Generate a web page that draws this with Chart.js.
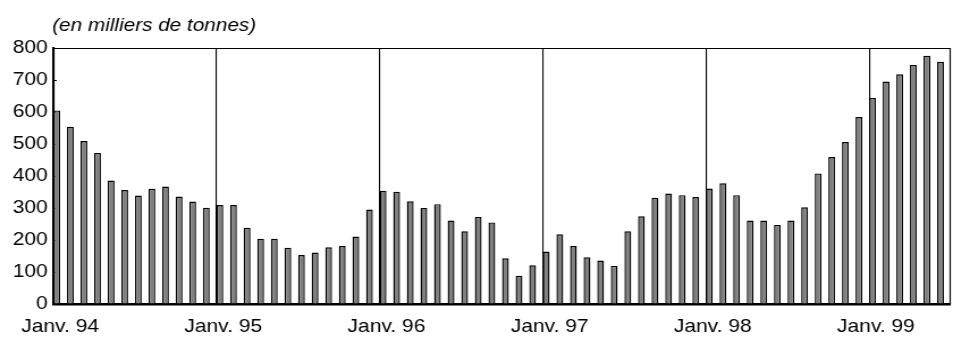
<!DOCTYPE html>
<html lang="fr">
<head>
<meta charset="utf-8">
<script src="https://cdn.jsdelivr.net/npm/chart.js@4/dist/chart.umd.min.js"></script>
<style>
  html, body { margin: 0; padding: 0; background: #fff; overflow: hidden; }
  /* the chart is laid out on a narrower canvas and widened to the page width */
  #wrap { width: 840px; height: 343px; transform: scaleX(1.1345); transform-origin: 0 0; }
</style>
</head>
<body>
<div id="wrap"><canvas id="chart"></canvas></div>
<script>
// Monthly volumes, thousands of tonnes
const values1994 = [605, 554, 509, 472, 386, 356, 339, 360, 367, 336, 320, 301];
const values1995 = [309, 309, 238, 204, 204, 176, 153, 161, 177, 181, 211, 295];
const values1996 = [354, 351, 321, 300, 312, 261, 227, 272, 255, 143, 88, 121];
const values1997 = [164, 218, 181, 146, 136, 119, 227, 274, 332, 345, 340, 334];
const values1998 = [361, 377, 340, 261, 261, 247, 261, 302, 408, 459, 506, 584];
const values1999 = [644, 695, 718, 747, 776, 757];

const yearLabels = ['Janv. 94', 'Janv. 95', 'Janv. 96', 'Janv. 97', 'Janv. 98', 'Janv. 99'];
const unitLabel = '(en milliers de tonnes)';

const monthly = [].concat(values1994, values1995, values1996, values1997, values1998, values1999);
const monthCount = monthly.length;

// each bar fills the first half of its month slot
const points = monthly.map((v, i) => ({ x: i + 0.25, y: v }));

const FONT = { family: "'Liberation Sans', Arial, Helvetica, sans-serif", size: 18.5 };

const framePlugin = {
  id: 'frame',
  afterDatasetsDraw(chart) {
    const { ctx, chartArea: a } = chart;
    ctx.save();
    ctx.strokeStyle = '#000';
    ctx.lineWidth = 1.2;
    ctx.beginPath();
    ctx.moveTo(a.left, a.top + 0.5);
    ctx.lineTo(a.right - 0.5, a.top + 0.5);
    ctx.lineTo(a.right - 0.5, a.bottom);
    ctx.stroke();
    ctx.restore();
  },
  afterDraw(chart) {
    const { ctx, chartArea: a } = chart;
    ctx.save();
    ctx.fillStyle = '#000';
    ctx.font = "italic 18.3px 'Liberation Sans', Arial, Helvetica, sans-serif";
    ctx.textAlign = 'left';
    ctx.textBaseline = 'alphabetic';
    ctx.fillText(unitLabel, a.left - 1, 31);
    ctx.restore();
  }
};

new Chart(document.getElementById('chart'), {
  type: 'bar',
  data: {
    datasets: [{
      data: points,
      backgroundColor: '#808080',
      borderColor: '#000',
      borderWidth: 1.4,
      borderSkipped: 'bottom',
      categoryPercentage: 0.5,
      barPercentage: 1.0
    }]
  },
  options: {
    responsive: true,
    maintainAspectRatio: false,
    animation: false,
    layout: { padding: { top: 48, right: 2, bottom: 0, left: 0 } },
    plugins: { legend: { display: false }, tooltip: { enabled: false }, title: { display: false } },
    scales: {
      x: {
        type: 'linear',
        min: 0,
        max: monthCount,
        offset: false,
        afterBuildTicks(scale) {
          scale.ticks = yearLabels.map((_, k) => ({ value: k * 12 }));
        },
        afterFit(scale) { scale.height = 39; },
        ticks: {
          autoSkip: false,
          maxRotation: 0,
          color: '#000',
          font: FONT,
          padding: 12,
          labelOffset: 6,
          callback(value) { return yearLabels[Math.round(value / 12)]; }
        },
        grid: { offset: false, color: '#000', lineWidth: 1.1, drawTicks: false, drawOnChartArea: true },
        border: { display: true, color: '#000', width: 2.6 }
      },
      y: {
        min: 0,
        max: 800,
        afterFit(scale) { scale.width = 47; },
        ticks: { stepSize: 100, color: '#000', font: FONT, padding: 8 },
        grid: { drawOnChartArea: false, drawTicks: true, tickLength: -3, color: '#000', lineWidth: 1 },
        border: { display: true, color: '#000', width: 2.1 }
      }
    }
  },
  plugins: [framePlugin]
});
</script>
</body>
</html>
